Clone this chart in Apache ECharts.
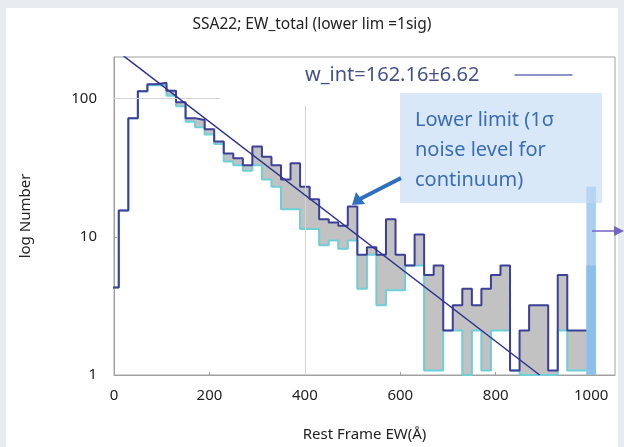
<!DOCTYPE html>
<html><head><meta charset="utf-8">
<script src="https://cdn.jsdelivr.net/npm/echarts@6/dist/echarts.min.js"></script>
<style>html,body{margin:0;padding:0;background:#e8ebef}#c{width:624px;height:447px}</style>
</head><body><div id="c"></div>
<script>
// ---- data ----
const titleText = 'SSA22; EW_total (lower lim =1sig)';
const binCenters = [0,20,40,60,80,100,120,140,160,180,200,220,240,260,280,300,320,340,360,380,400,420,440,460,480,500,520,540,560,580,600,620,640,660,680,700,720,740,760,780,800,820,840,860,880,900,920,940,960,980];
const binWidth = 20;
// histogram with lower limit (navy outline)
const countLowerLim = [4.3,15.5,72,113,127,130,114,94,72,70,60,49,40,37,33,45,38,33,26,34,23,18.7,13.4,12.7,12,16.6,7.4,8.4,7.4,13.4,7.4,6.2,10.4,5.3,6.2,2.1,3.2,4.2,3.2,4.2,5.3,6.2,1.08,2.1,3.2,3.2,1.08,5.3,2.1,2.1];
// histogram of detections only (cyan outline)
const countDetect = [4.3,15.5,72,113,125,125,105,88,68,62,55,47,35,33,30,33,26,23,15.8,15.8,11.4,11.4,8.7,9.4,8.2,9.4,4.2,7.4,3.2,4.1,4.1,6.2,6.2,1.08,1.08,2.1,2.1,1,2.1,1.08,2.1,2.1,1.08,1,1,1,1,2.1,1.08,1.08];
// overflow bin (>= 1000)
const overflowCenter = [1000];
const overflowCount = [23];
const overflowCountLow = [6.2];
// exponential fit (straight in log space): end points
const fitEnds = [[0,230],[892,1]];
const fitLabel = 'w_int=162.16\u00b16.62';
const xTicks = [0,200,400,600,800,1000];
const yTicks = [1,10,100];
const xName = 'Rest Frame EW(\u00c5)';
const yName = 'log Number';
const noteLines = ['Lower limit (1\u03c3', 'noise level for', 'continuum)'];

// ---- build ----
const half = binWidth/2;
function stepData(vals){
  const d = binCenters.map((c,i)=>[c-half, vals[i]]);
  d.push([binCenters[binCenters.length-1]+half, vals[vals.length-1]]);
  return d;
}
const diffData = binCenters.map((c,i)=>[c, countDetect[i], countLowerLim[i]]);
const overflowData = overflowCenter.map((c,i)=>[c, 1, overflowCount[i]]);
const overflowLowData = overflowCenter.map((c,i)=>[c, 1, overflowCountLow[i]]);

function rectItem(fill, overlap){
  return function(params, api){
    const c = api.value(0), lo = api.value(1), hi = api.value(2);
    if (hi <= lo) return null;
    const p1 = api.coord([c-half, hi]);
    const p2 = api.coord([c+half, lo]);
    const x0 = p1[0] - overlap, x1 = p2[0] + overlap;
    const shape = echarts.graphic.clipRectByRect(
      {x:x0, y:p1[1], width:x1-x0, height:p2[1]-p1[1]},
      {x:params.coordSys.x, y:params.coordSys.y, width:params.coordSys.width, height:params.coordSys.height});
    if (!shape) return null;
    return {type:'rect', shape:shape, style:{fill:fill}};
  };
}

const FONT = 'Noto Sans';
const chart = echarts.init(document.getElementById('c'), null, {renderer:'canvas'});
chart.setOption({
  animation:false,
  backgroundColor:'#e8ebef',
  title:{text:titleText, left:307, top:12, textAlign:'center',
    textStyle:{fontFamily:FONT, fontSize:15.5, fontWeight:'normal', color:'#222'}},
  legend:{data:[fitLabel], left:300, top:60, align:'right', icon:'rect', itemWidth:58, itemHeight:1.5,
    itemStyle:{color:'#6b70b4'},
    textStyle:{fontFamily:FONT, fontSize:20, color:'#44508a', padding:[0,30,0,0]},
    selectedMode:false},
  grid:{left:114, top:57, right:9, bottom:69, show:true, backgroundColor:'#fff', borderColor:'#a0a0a0', borderWidth:1},
  xAxis:{type:'value', min:0, max:1050, interval:200,
    axisLine:{show:true, lineStyle:{color:'#a0a0a0'}},
    axisTick:{show:true, inside:true, length:3, lineStyle:{color:'#a0a0a0'}},
    splitLine:{show:false},
    axisLabel:{fontFamily:FONT, fontSize:15, color:'#222', margin:13, showMaxLabel:false,
      formatter:v=> xTicks.indexOf(v)>=0 ? String(v) : ''},
    name:xName, nameLocation:'middle', nameGap:52,
    nameTextStyle:{fontFamily:FONT, fontSize:15, color:'#222'}},
  yAxis:{type:'log', logBase:10, min:1, max:200,
    axisLine:{show:true, lineStyle:{color:'#a0a0a0'}},
    axisTick:{show:true, inside:true, length:3, lineStyle:{color:'#a0a0a0'}},
    splitLine:{show:false},
    axisLabel:{fontFamily:FONT, fontSize:15, color:'#222', margin:17, showMaxLabel:false,
      formatter:v=> yTicks.indexOf(Math.round(v))>=0 ? String(Math.round(v)) : ''},
    name:yName, nameLocation:'middle', nameGap:81,
    nameTextStyle:{fontFamily:FONT, fontSize:15, color:'#222'}},
  series:[
    {type:'custom', name:'diff', renderItem:rectItem('#c2c2c2', 0.6), data:diffData,
     encode:{x:0, y:[1,2]}, z:1, silent:true,
     markLine:{silent:true, symbol:'none', label:{show:false},
       lineStyle:{color:'#d4d4d4', width:1, type:'solid'},
       data:[[{coord:[0,100]},{coord:[222,100]}],[{coord:[400,1]},{coord:[400,89]}]]}},
    {type:'custom', name:'overflow', renderItem:rectItem('#a9d0f0', 0), data:overflowData,
     encode:{x:0, y:[1,2]}, z:2, silent:true},
    {type:'custom', name:'overflowLow', renderItem:rectItem('#8cc0ea', 0), data:overflowLowData,
     encode:{x:0, y:[1,2]}, z:2, silent:true},
    {type:'line', name:'detect', data:stepData(countDetect), step:'end', symbol:'none',
     lineStyle:{color:'#6fcfd6', width:2}, z:3, silent:true},
    {type:'line', name:'lowerlim', data:stepData(countLowerLim), step:'end', symbol:'none',
     lineStyle:{color:'#3d3f98', width:2}, z:4, silent:true},
    {type:'line', name:fitLabel, data:fitEnds, symbol:'none', showSymbol:false,
     lineStyle:{color:'#2e3290', width:1.5}, itemStyle:{color:'#6b70b4'}, z:5, silent:true}
  ],
  graphic:[
    {type:'rect', z:-10, silent:true, shape:{x:6, y:8, width:612, height:447}, style:{fill:'#ffffff'}},
    {type:'rect', z:100, silent:true, shape:{x:400, y:93, width:202, height:110}, style:{fill:'rgba(190,216,243,0.6)'}},
    {type:'text', z:101, silent:true, x:415, y:105, style:{text:noteLines.join('\n'), lineHeight:30, fontFamily:FONT, fontSize:20, fill:'#3a6db5'}},
    {type:'line', z:101, silent:true, shape:{x1:401, y1:178, x2:360, y2:199}, style:{stroke:'#2f6fc0', lineWidth:4}},
    {type:'polygon', z:101, silent:true, shape:{points:[[352,205],[356,192],[365,204]]}, style:{fill:'#2f6fc0'}},
    {type:'line', z:101, silent:true, shape:{x1:592, y1:231, x2:616, y2:231}, style:{stroke:'#7563c2', lineWidth:1.5}},
    {type:'polygon', z:101, silent:true, shape:{points:[[614,226],[624,231],[614,236]]}, style:{fill:'#7563c2'}}
  ]
});
</script></body></html>
